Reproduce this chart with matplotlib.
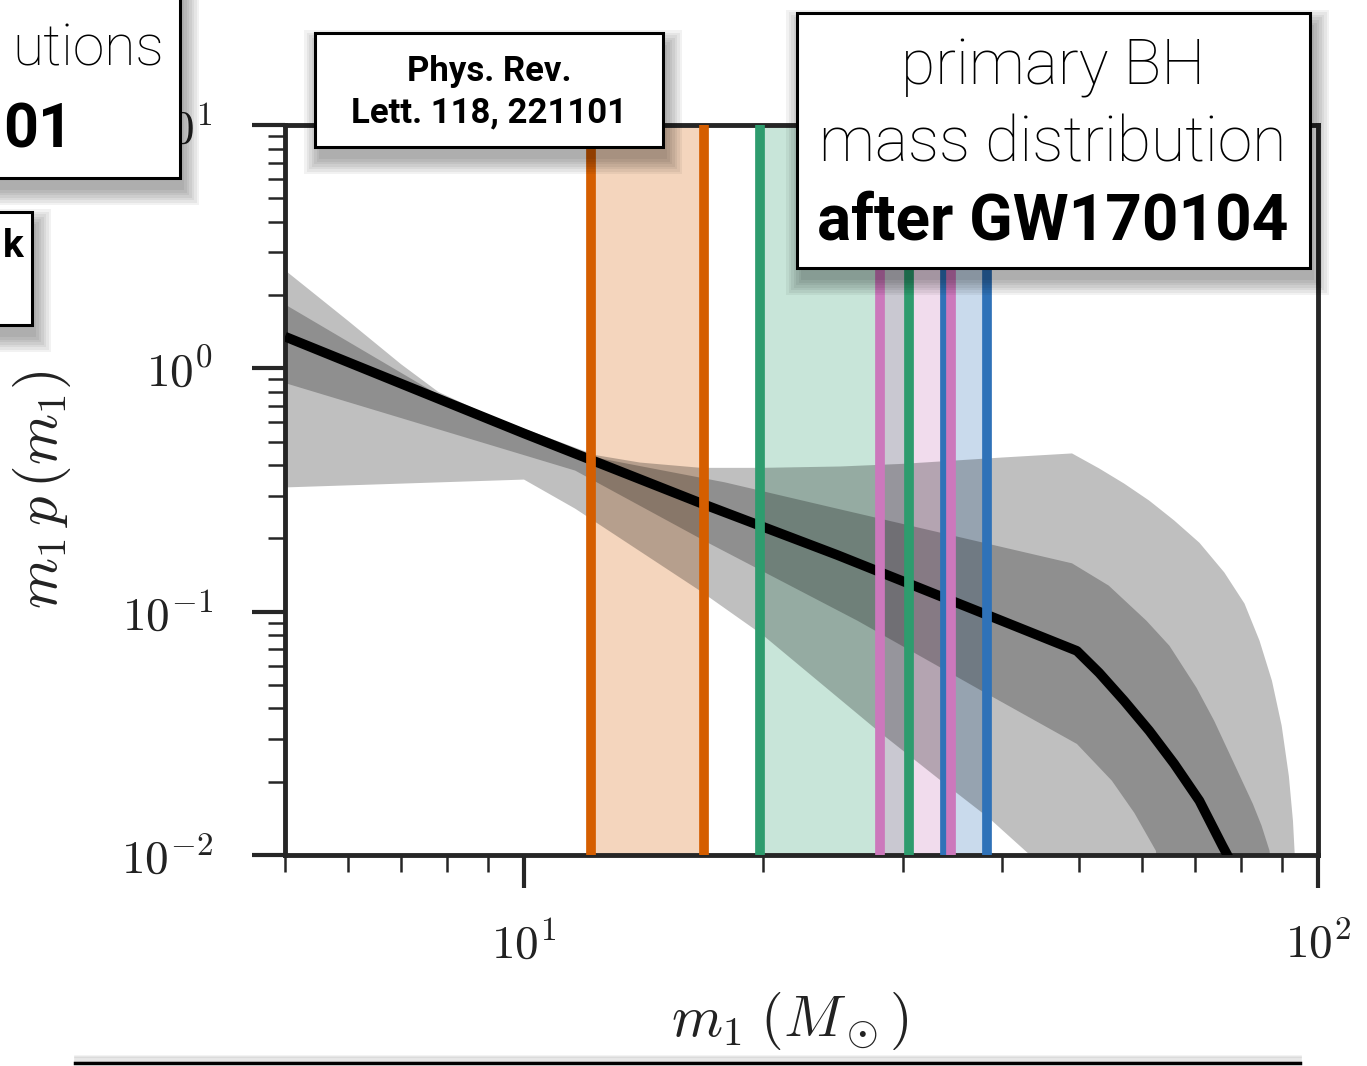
import numpy as np
import matplotlib.pyplot as plt
from matplotlib.patches import Rectangle
from matplotlib.lines import Line2D
from matplotlib.ticker import NullFormatter, FixedLocator

plt.rcParams['mathtext.fontset'] = 'cm'

W, H = 1367, 1066

# median of m1 p(m1)
m_med = [5, 10, 16.8, 24.8, 38.3, 49.7, 53, 57, 61.3, 65.9, 70.9, 75.8, 78.5]
p_med = [1.35, 0.54, 0.277, 0.171, 0.097, 0.069, 0.0561, 0.043, 0.0324, 0.0237, 0.0167, 0.0109, 0.0088]

# 90% band
m_hi90 = [5, 6, 7, 7.8, 9, 10, 12.3, 14, 16.7, 20, 25, 30, 40, 49, 53, 57, 61.3, 65.9, 70.9, 76.2, 80.8,
          84.4, 87.5, 90, 91.9, 93, 93.5, 93.9]
p_hi90 = [2.53, 1.57, 1.04, 0.80, 0.645, 0.565, 0.44, 0.41, 0.39, 0.39, 0.395, 0.405, 0.43, 0.447, 0.388,
          0.336, 0.286, 0.237, 0.192, 0.145, 0.108, 0.076, 0.052, 0.034, 0.0211, 0.0138, 0.0099, 0.005]
m_lo90 = [5, 10, 11.6, 16.65, 20, 27.9, 33.9, 38.5, 42.8, 55]
p_lo90 = [0.324, 0.349, 0.265, 0.122, 0.080, 0.0324, 0.0196, 0.0142, 0.0104, 0.005]

# 50% band
m_hi50 = [5, 7.9, 9, 10, 12.3, 17.9, 24.8, 49, 54.5, 60.8, 65, 70.3, 74, 77.4, 82.8, 84.9, 86.9, 88.5]
p_hi50 = [1.83, 0.76, 0.635, 0.555, 0.43, 0.34, 0.265, 0.158, 0.128, 0.0918, 0.0724, 0.0487, 0.0356, 0.026,
          0.0162, 0.0132, 0.0104, 0.005]
m_lo50 = [5, 11.6, 17.15, 26.3, 37.7, 49.7, 55, 58.7, 62.5, 64]
p_lo50 = [0.87, 0.38, 0.19, 0.0918, 0.0473, 0.0286, 0.0202, 0.0149, 0.0104, 0.005]

# event mass intervals (orange, green, blue, pink)
band_lo = [12.16, 19.8, 33.9, 28.1]
band_hi = [16.84, 30.5, 38.3, 34.5]
band_colors = ['#D55E00', '#2E9C6E', '#2F72B8', '#CC78BC']

x_major = [10, 100]
x_major_labels = [r'$10^{1}$', r'$10^{2}$']
x_minor = [5, 6, 7, 8, 9, 20, 30, 40, 50, 60, 70, 80, 90]
y_major = [1e-2, 1e-1, 1e0, 1e1]
y_major_labels = [r'$10^{-2}$', r'$10^{-1}$', r'$10^{0}$', r'$10^{1}$']

fig = plt.figure(figsize=(W / 100, H / 100), dpi=100)
ax = fig.add_axes([285 / W, 1 - 855 / H, (1318 - 285) / W, (855 - 125) / H])
ax.set_xscale('log')
ax.set_yscale('log')

# coloured mass intervals
for lo, hi, c in zip(band_lo, band_hi, band_colors):
    ax.axvspan(lo, hi, color=c, alpha=0.26, lw=0, zorder=1)

# credible bands
ax.fill(np.r_[m_hi90, m_lo90[::-1]], np.r_[p_hi90, p_lo90[::-1]], color='k', alpha=0.25, lw=0, zorder=2)
ax.fill(np.r_[m_hi50, m_lo50[::-1]], np.r_[p_hi50, p_lo50[::-1]], color='k', alpha=0.25, lw=0, zorder=2)
ax.plot(m_med, p_med, color='k', lw=7, solid_capstyle='butt', solid_joinstyle='round', zorder=3)

for lo, hi, c in zip(band_lo, band_hi, band_colors):
    ax.axvline(lo, color=c, lw=7, zorder=4)
    ax.axvline(hi, color=c, lw=7, zorder=4)

ax.set_xlim(5, 100)
ax.set_ylim(1e-2, 1e1)

ax.set_xticks(x_major, x_major_labels)
ax.xaxis.set_minor_locator(FixedLocator(x_minor))
ax.xaxis.set_minor_formatter(NullFormatter())
ax.set_yticks(y_major, y_major_labels)
ax.yaxis.set_minor_locator(FixedLocator([k * 10.0 ** e for e in (-2, -1, 0) for k in range(2, 10)]))
ax.yaxis.set_minor_formatter(NullFormatter())

ink = '#262626'
for s in ax.spines.values():
    s.set_linewidth(3.5)
    s.set_color(ink)
ax.tick_params(which='major', direction='out', length=24, width=3, color=ink, labelsize=34, labelcolor='#222222')
ax.tick_params(which='minor', direction='out', length=12, width=1.8, color=ink)
ax.tick_params(axis='x', which='major', pad=24)
ax.tick_params(axis='y', which='major', pad=28)

ax.set_xlabel(r'$m_1\;(M_\odot)$', fontsize=42, color='#222222')
ax.set_ylabel(r'$m_1\,p\,(m_1)$', fontsize=42, color='#222222')
ax.xaxis.set_label_coords(0.489, -0.185)
ax.yaxis.set_label_coords(-0.205, 0.5)


# slide overlay boxes (pixel coordinates of the slide)
def box(x0, y0, x1, y1):
    for i in range(7):
        g = i * 2.5
        fig.add_artist(Rectangle(((x0 + 4 - g) / W, 1 - (y1 + 12 + g) / H), (x1 - x0 + 2 * g) / W,
                                 (y1 - y0 + 2 * g) / H, transform=fig.transFigure,
                                 facecolor='k', edgecolor='none', alpha=0.05, zorder=5))
    fig.add_artist(Rectangle((x0 / W, 1 - y1 / H), (x1 - x0) / W, (y1 - y0) / H, transform=fig.transFigure,
                             facecolor='white', edgecolor='black', lw=2.2, zorder=6))


def txt(x, y, s, size, weight='normal', ha='center'):
    fig.text(x / W, 1 - y / H, s, fontsize=size, fontweight=weight, ha=ha, va='center',
             family=['Roboto', 'Liberation Sans', 'DejaVu Sans'], zorder=7)


box(-20, -20, 180, 178)
txt(164, 50, 'utions', 41, 'light', ha='right')
txt(3, 130, '01', 44, 'bold', ha='left')

box(-20, 212, 32, 325)
txt(3, 246, 'k', 28, 'bold', ha='left')

box(315, 33, 663, 147)
txt(489, 72, 'Phys. Rev.', 25, 'bold')
txt(489, 113, 'Lett. 118, 221101', 25, 'bold')

box(797, 13, 1310, 268)
txt(1053, 68, 'primary BH', 45, 'light')
txt(1053, 144, 'mass distribution', 45, 'light')
txt(1053, 222, 'after GW170104', 46, 'bold')

# bottom rule of the slide
for k in range(6):
    fig.add_artist(Line2D([75 / W, 1300 / W], [(1066 - 1062 + 1.2 * k) / H] * 2, transform=fig.transFigure,
                          color='k', alpha=0.05, lw=2, zorder=5))
fig.add_artist(Line2D([75 / W, 1300 / W], [3 / H, 3 / H], transform=fig.transFigure, color='black', lw=2.5, zorder=6))

fig.savefig('out.png', dpi=100)
